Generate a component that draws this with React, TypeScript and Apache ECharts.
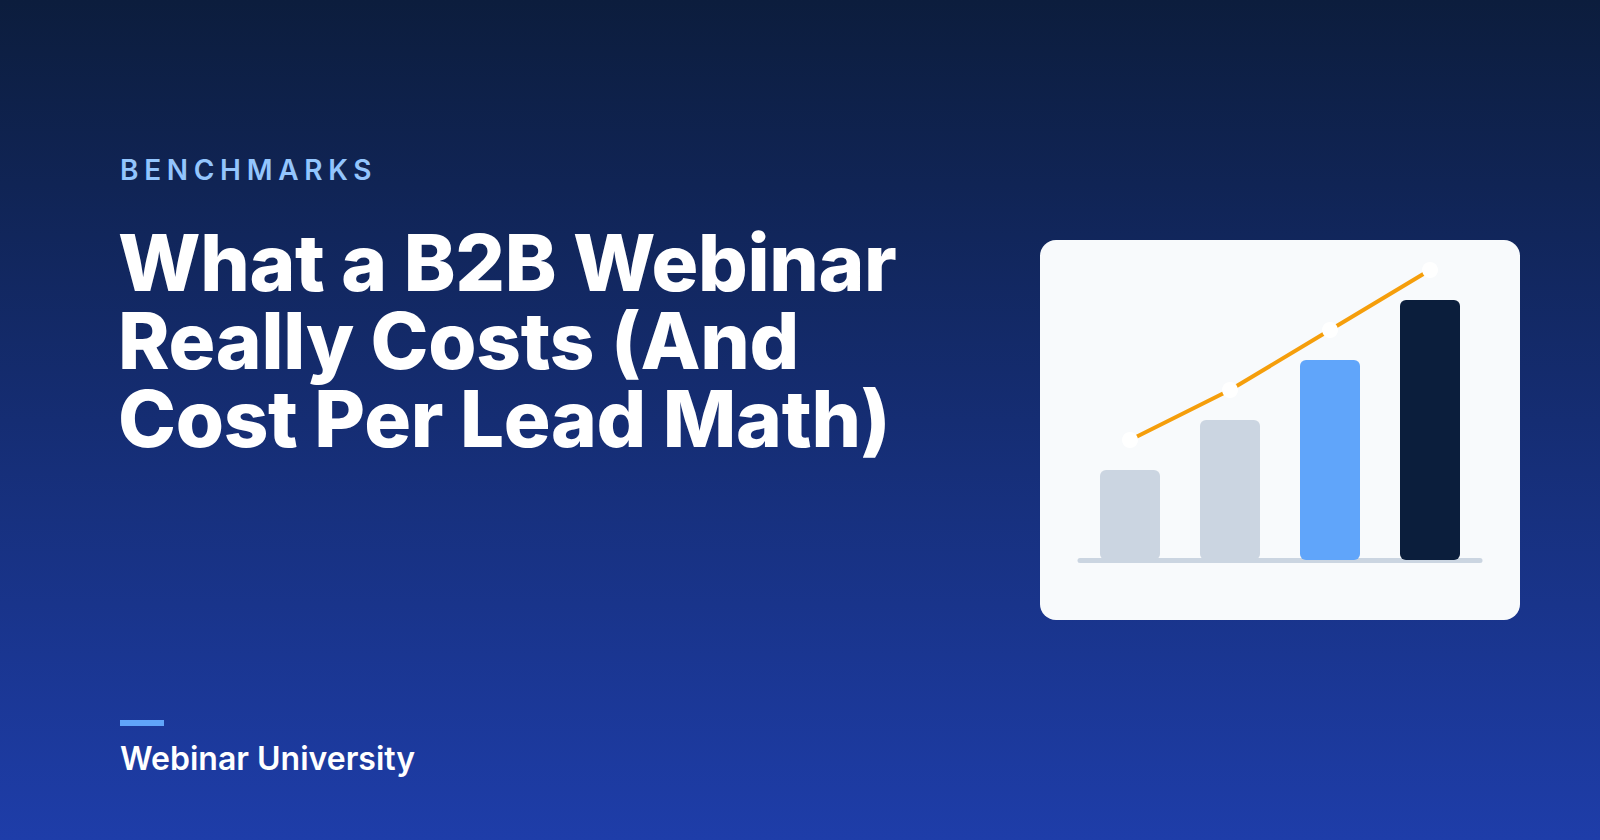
import React, { useEffect, useRef } from "react";
import * as echarts from "echarts";

const categories = ["A", "B", "C", "D"];
const barValues = [90, 140, 200, 260];
const lineValues = [120, 170, 230, 290];
const barColors = ["#CBD5E1", "#CBD5E1", "#60A5FA", "#0B1E3C"];
const eyebrow = "BENCHMARKS";
const titleLines = ["What a B2B Webinar", "Really Costs (And", "Cost Per Lead Math)"];
const footer = "Webinar University";

export default function App() {
  const ref = useRef<HTMLDivElement>(null);
  useEffect(() => {
    document.body.style.margin = "0";
    const chart = echarts.init(ref.current!, null, { renderer: "svg" });
    chart.setOption({
      animation: false,
      graphic: [
        {
          type: "rect",
          z: -10,
          shape: { x: 0, y: 0, width: 1600, height: 840 },
          style: {
            fill: new echarts.graphic.LinearGradient(0, 0, 0, 1, [
              { offset: 0, color: "#0C1D3D" },
              { offset: 1, color: "#1E3DA9" },
            ]),
          },
        },
        {
          type: "rect",
          z: -5,
          shape: { x: 1040, y: 240, width: 480, height: 380, r: 16 },
          style: { fill: "#F8FAFC" },
        },
        {
          type: "text",
          z: 5,
          x: 120,
          y: 170,
          style: {
            text: eyebrow,
            fill: "#93C5FD",
            font: "600 28px Inter",
            verticalAlign: "middle",
            align: "left",
          },
        },
        {
          type: "text",
          z: 5,
          x: 118,
          y: 262 - 39,
          style: {
            text: titleLines.join("\n"),
            fill: "#FFFFFF",
            font: "800 78px Inter",
            lineHeight: 78,
            verticalAlign: "top",
            align: "left",
          },
        },
        {
          type: "rect",
          z: 5,
          shape: { x: 120, y: 720, width: 44, height: 6 },
          style: { fill: "#60A5FA" },
        },
        {
          type: "text",
          z: 5,
          x: 120,
          y: 758,
          style: {
            text: footer,
            fill: "#FFFFFF",
            font: "600 32px Inter",
            verticalAlign: "middle",
            align: "left",
          },
        },
      ],
      grid: { left: 1080, width: 400, top: 260, height: 300 },
      xAxis: {
        type: "category",
        data: categories,
        offset: 2.5,
        axisLine: { show: true, lineStyle: { color: "#CBD5E1", width: 5 } },
        axisTick: { show: false },
        axisLabel: { show: false },
        splitLine: { show: false },
      },
      yAxis: { type: "value", min: 0, max: 300, show: false },
      series: [
        {
          type: "bar",
          barWidth: 60,
          data: barValues.map((v, i) => ({
            value: v,
            itemStyle: { color: barColors[i], borderRadius: 6 },
          })),
          z: 2,
        },
        {
          type: "line",
          data: lineValues,
          symbol: "circle",
          symbolSize: 16,
          itemStyle: { color: "#FFFFFF", borderWidth: 0 },
          lineStyle: { color: "#F59E0B", width: 4 },
          z: 3,
        },
      ],
    });
    const tweak = () => {
      const texts = ref.current?.querySelectorAll("text") || [];
      texts.forEach((t) => {
        const s = t.textContent || "";
        if (s === eyebrow) t.setAttribute("letter-spacing", "5.7");
        if (titleLines.includes(s)) t.setAttribute("letter-spacing", "-0.3");
      });
    };
    tweak();
    chart.on("finished", tweak);
    const tm = setTimeout(tweak, 50);
    return () => {
      clearTimeout(tm);
      chart.dispose();
    };
  }, []);
  return (
    <div
      ref={ref}
      style={{ position: "absolute", left: 0, top: 0, width: 1600, height: 840 }}
    />
  );
}
